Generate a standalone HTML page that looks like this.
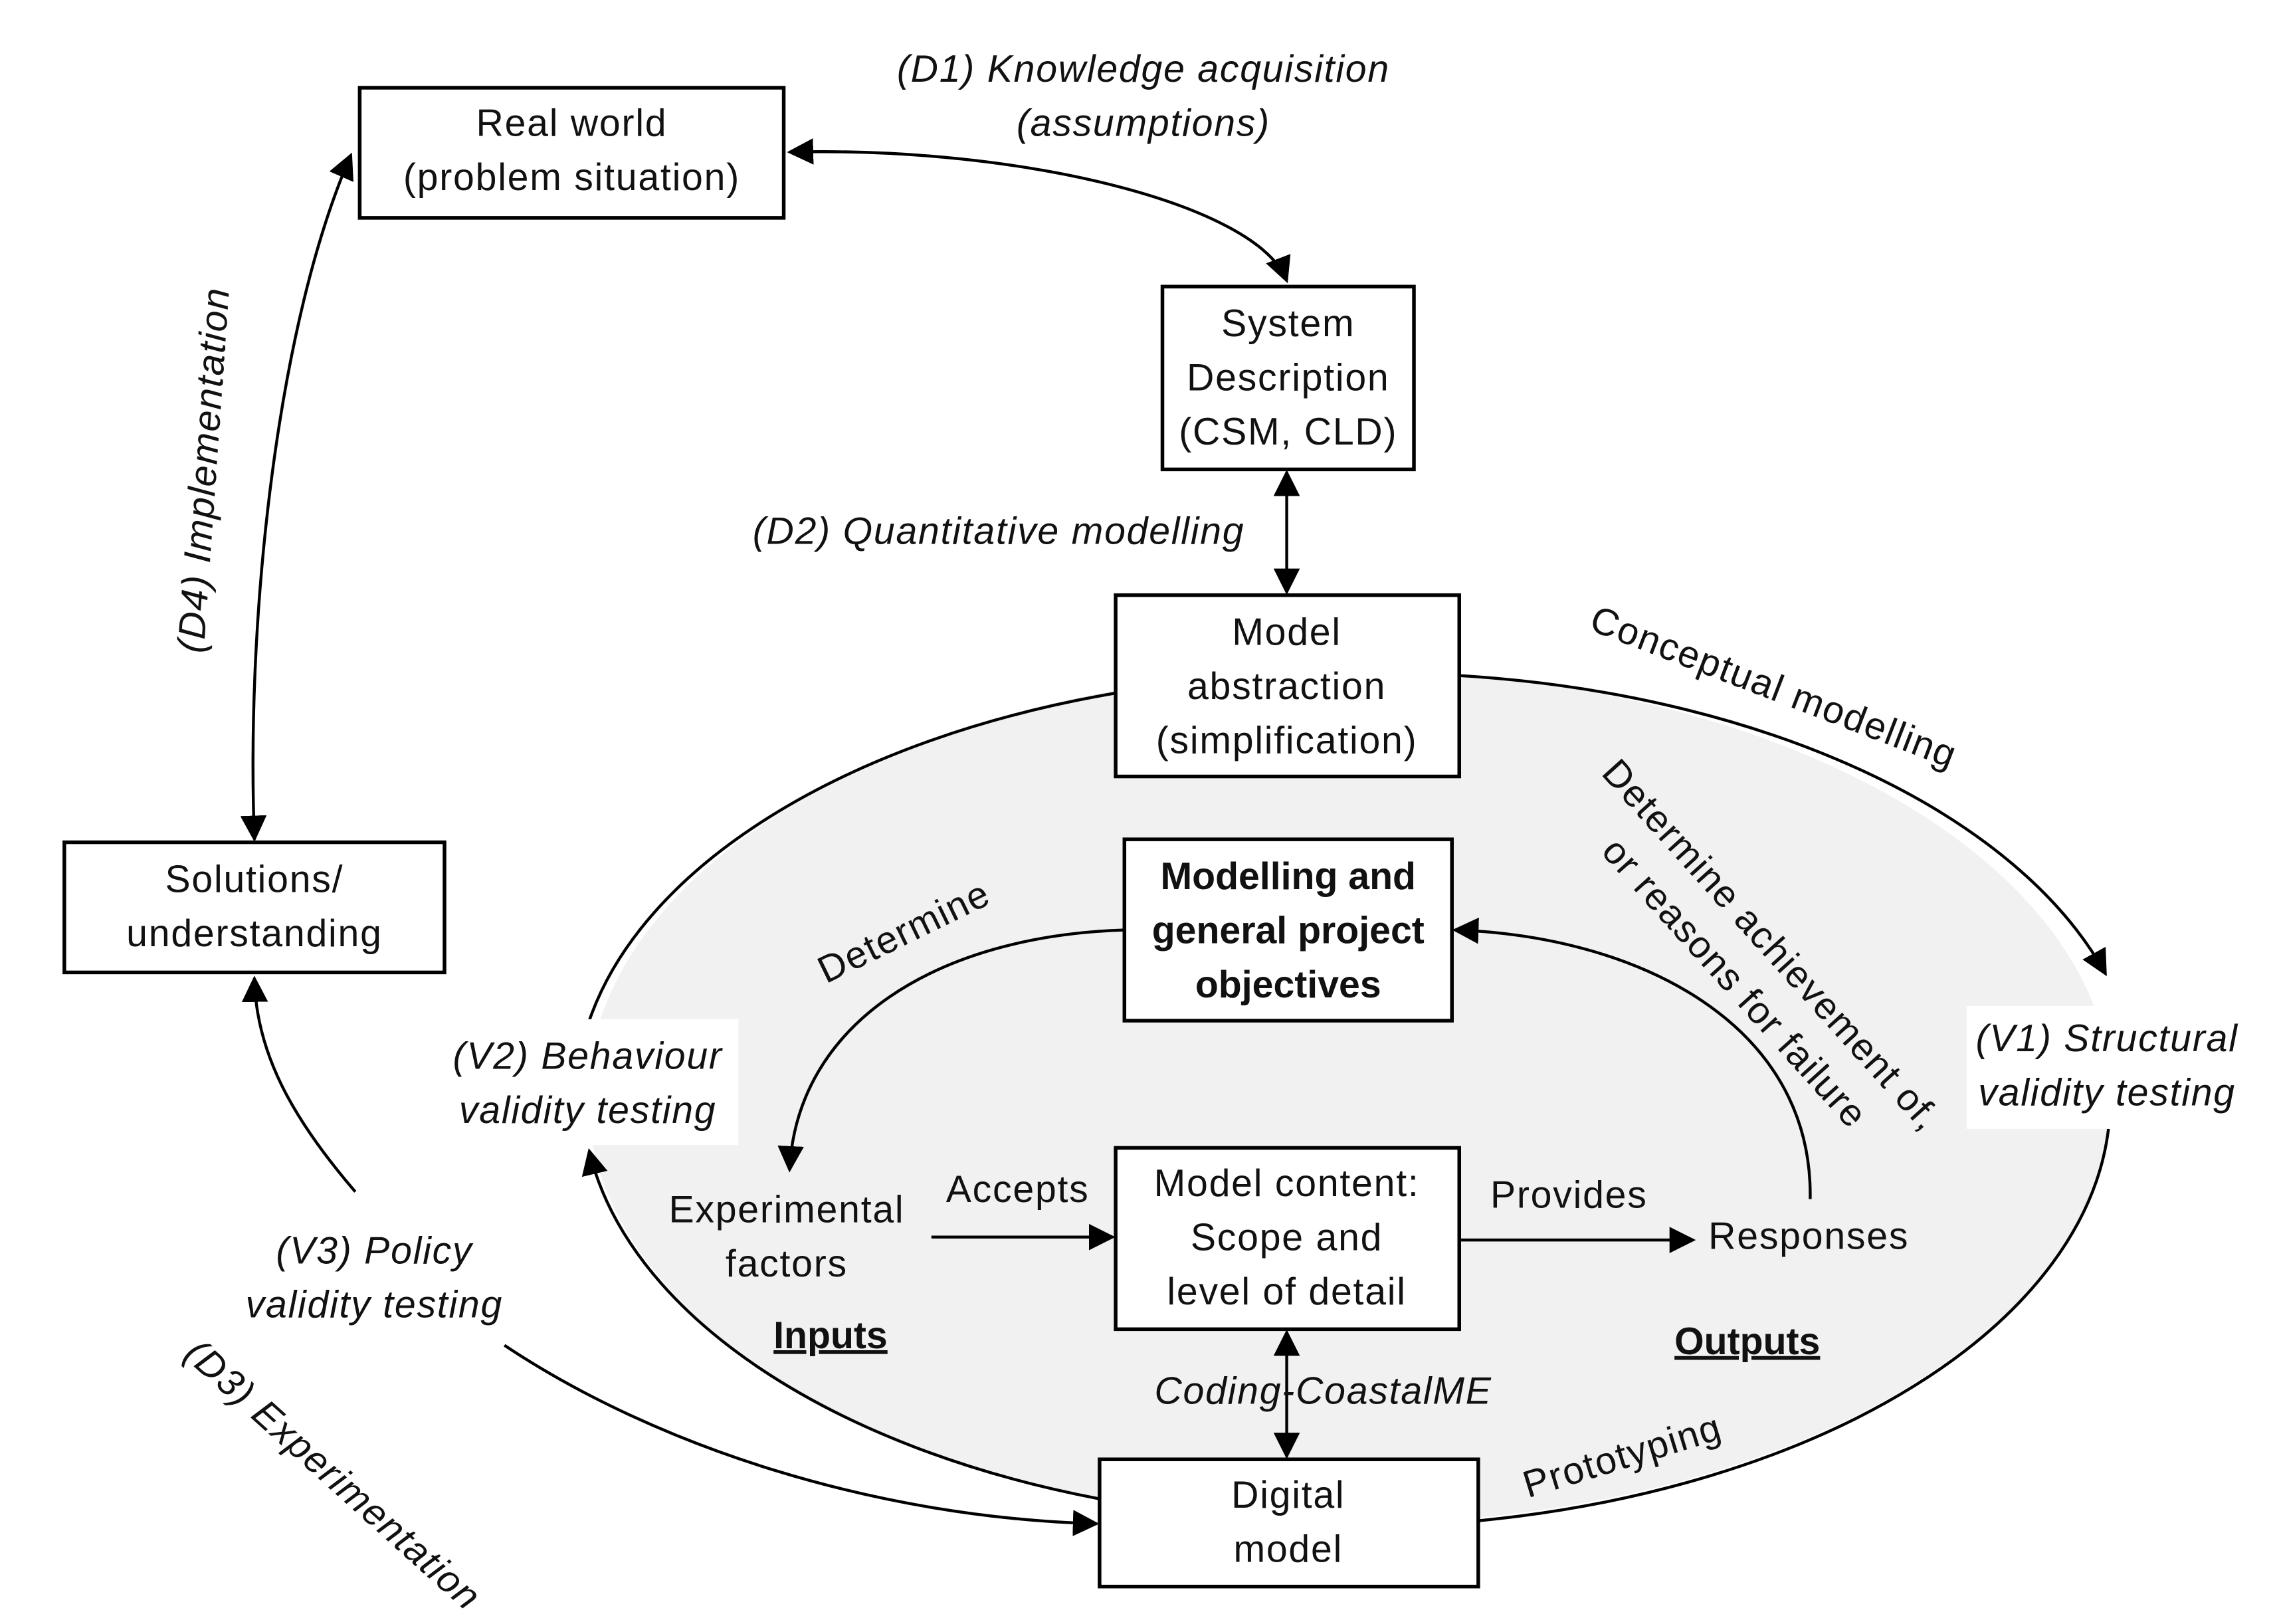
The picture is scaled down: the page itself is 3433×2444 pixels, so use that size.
<!DOCTYPE html>
<html><head><meta charset="utf-8"><style>
html,body{margin:0;padding:0;background:#fff;}
svg{display:block;}
text{font-family:"Liberation Sans",sans-serif;font-size:26px;letter-spacing:0.8px;fill:#111;}
.i{font-style:italic;}
.b{font-weight:bold;letter-spacing:0;}
</style></head><body>
<svg width="3433" height="2444" viewBox="0 0 1560 1110.6" preserveAspectRatio="none" xmlns="http://www.w3.org/2000/svg">
<defs>
<marker id="A" viewBox="0 0 10 10" refX="9" refY="5" markerWidth="18" markerHeight="18" markerUnits="userSpaceOnUse" orient="auto-start-reverse"><path d="M0,0 L10,5 L0,10 z" fill="#000"/></marker>
</defs>
<ellipse cx="923" cy="750" rx="521" ry="292" fill="#f1f1f1"/>
<g fill="none" stroke="#000" stroke-width="2">
<path d="M763,474 A521,292 0 0 0 403,698"/>
<path d="M998,462 A521,292 0 0 1 1440,666" marker-end="url(#A)"/>
<path d="M1442,772 A521,292 0 0 1 1011,1040"/>
<path d="M752,1025 A521,292 0 0 1 403,787" marker-end="url(#A)"/>
<path d="M540,104 C700,100 860,140 880,192" marker-start="url(#A)" marker-end="url(#A)"/>
<path d="M880,323 L880,405" marker-start="url(#A)" marker-end="url(#A)"/>
<path d="M240,106 C190,220 168,420 174,574" marker-start="url(#A)" marker-end="url(#A)"/>
<path d="M243,815 C200,765 175,720 174,669" marker-end="url(#A)"/>
<path d="M345,920 C450,990 600,1038 750,1042" marker-end="url(#A)"/>
<path d="M769,636 C640,640 545,700 540,800" marker-end="url(#A)"/>
<path d="M1238,820 C1240,700 1120,640 995,636" marker-end="url(#A)"/>
<path d="M637,846 L761,846" marker-end="url(#A)"/>
<path d="M998,848 L1158,848" marker-end="url(#A)"/>
<path d="M880,911 L880,996" marker-start="url(#A)" marker-end="url(#A)"/>
</g>
<rect x="305" y="697" width="200" height="86" fill="#fff"/>
<rect x="1345" y="688" width="192" height="84" fill="#fff"/>
<g fill="#fff" stroke="#000" stroke-width="2.5">
<rect x="246" y="60" width="290" height="89"/>
<rect x="795" y="196" width="172" height="125"/>
<rect x="763" y="407" width="235" height="124"/>
<rect x="769" y="574" width="224" height="124"/>
<rect x="44" y="576" width="260" height="89"/>
<rect x="763" y="785" width="235" height="124"/>
<rect x="752" y="998" width="259" height="87"/>
</g>
<g text-anchor="middle">
<text x="391" y="93">Real world</text>
<text x="391" y="130">(problem situation)</text>
<text x="881" y="230">System</text>
<text x="881" y="267">Description</text>
<text x="881" y="304">(CSM, CLD)</text>
<text x="880" y="441">Model</text>
<text x="880" y="478">abstraction</text>
<text x="880" y="515">(simplification)</text>
<text class="b" x="881" y="608">Modelling and</text>
<text class="b" x="881" y="645">general project</text>
<text class="b" x="881" y="682">objectives</text>
<text x="174" y="610">Solutions/</text>
<text x="174" y="647">understanding</text>
<text x="880" y="818">Model content:</text>
<text x="880" y="855">Scope and</text>
<text x="880" y="892">level of detail</text>
<text x="881" y="1031">Digital</text>
<text x="881" y="1068">model</text>
<text class="i" x="782" y="56">(D1) Knowledge acquisition</text>
<text class="i" x="782" y="93">(assumptions)</text>
<text class="i" x="402" y="731">(V2) Behaviour</text>
<text class="i" x="402" y="768">validity testing</text>
<text class="i" x="1441" y="719">(V1) Structural</text>
<text class="i" x="1441" y="756">validity testing</text>
<text class="i" x="256" y="864">(V3) Policy</text>
<text class="i" x="256" y="901">validity testing</text>
<text x="538" y="836">Experimental</text>
<text x="538" y="873">factors</text>
<text x="696" y="822">Accepts</text>
<text x="1073" y="826">Provides</text>
<text x="1237" y="854">Responses</text>
<text class="b" x="568" y="922" text-decoration="underline" font-size="28">Inputs</text>
<text class="b" x="1195" y="926" text-decoration="underline" font-size="28">Outputs</text>
<text class="i" x="905" y="960">Coding-CoastalME</text>
<text class="i" x="683" y="372">(D2)  Quantitative modelling</text>
<text transform="translate(1210,478) rotate(21)">Conceptual modelling</text>
<text transform="translate(1205,652) rotate(48)">Determine achievement of,</text>
<text transform="translate(1180,678) rotate(48)">or reasons for failure</text>
<text transform="translate(622,645) rotate(-26)">Determine</text>
<text class="i" transform="translate(148,322) rotate(-86)">(D4) Implementation</text>
<text class="i" transform="translate(222,1015) rotate(42)">(D3) Experimentation</text>
<text transform="translate(1112,1004) rotate(-17)">Prototyping</text>
</g>
</svg>
</body></html>
